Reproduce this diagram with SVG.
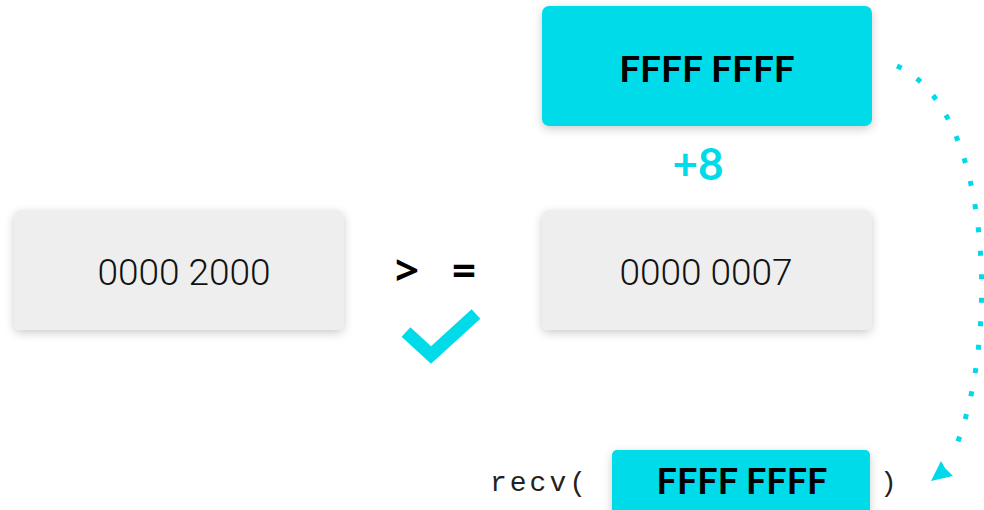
<svg xmlns="http://www.w3.org/2000/svg" width="984" height="510" viewBox="0 0 984 510">
<defs>
<filter id="sh" x="-10%" y="-20%" width="120%" height="150%">
<feDropShadow dx="0" dy="3" stdDeviation="5" flood-color="#000" flood-opacity="0.2"/>
</filter>
</defs>
<style>
.cyan{fill:#00DBEA;}
.gray{fill:#EEEEEE;}
.bold{font-family:Lato,"Noto Sans",sans-serif;font-weight:bold;fill:#000;}
.light{font-family:Roboto,"Liberation Sans",sans-serif;font-weight:300;fill:#111;font-size:37px;}
.mono{font-family:"Liberation Mono",monospace;font-size:28px;fill:#222;}
</style>
<rect width="984" height="510" fill="#fff"/>
<g id="connectors">
<path d="M897,66 C995,110 1000,350 952,456" fill="none" stroke="#00D9EA" stroke-width="5" stroke-dasharray="5 18.5"/>
<polygon points="931,481 941,461 945,468 953,476" fill="#00D9EA"/>
</g>
<g id="top-box">
<rect x="542" y="6" width="330" height="120" rx="7" class="cyan" filter="url(#sh)"/>
<text x="707" y="82" text-anchor="middle" class="bold" font-size="37">FFFF FFFF</text>
</g>
<g id="plus8">
<text x="698" y="180" text-anchor="middle" font-family="Lato,'Noto Sans',sans-serif" font-weight="bold" font-size="44" fill="#00DBEA">+8</text>
</g>
<g id="left-box">
<rect x="14" y="210" width="330" height="120" rx="7" class="gray" filter="url(#sh)"/>
<text x="184" y="285" text-anchor="middle" class="light">0000 2000</text>
</g>
<g id="right-box">
<rect x="542" y="210" width="330" height="120" rx="7" class="gray" filter="url(#sh)"/>
<text x="706" y="285" text-anchor="middle" class="light">0000 0007</text>
</g>
<g id="compare">
<text y="285" font-family="'Noto Sans',sans-serif" font-weight="bold" font-size="42" fill="#000"><tspan x="395">&gt;</tspan><tspan x="452">=</tspan></text>
</g>
<g id="check">
<polyline points="406,332 431,355 476,314" fill="none" stroke="#00DBEA" stroke-width="13" stroke-linejoin="miter"/>
</g>
<g id="recv">
<text x="490" y="491" class="mono" letter-spacing="3">recv(</text>
<rect x="612" y="450" width="258" height="66" rx="5" class="cyan" filter="url(#sh)"/>
<text x="742" y="494" text-anchor="middle" class="bold" font-size="36">FFFF FFFF</text>
<text x="880" y="491" class="mono">)</text>
</g>
</svg>
